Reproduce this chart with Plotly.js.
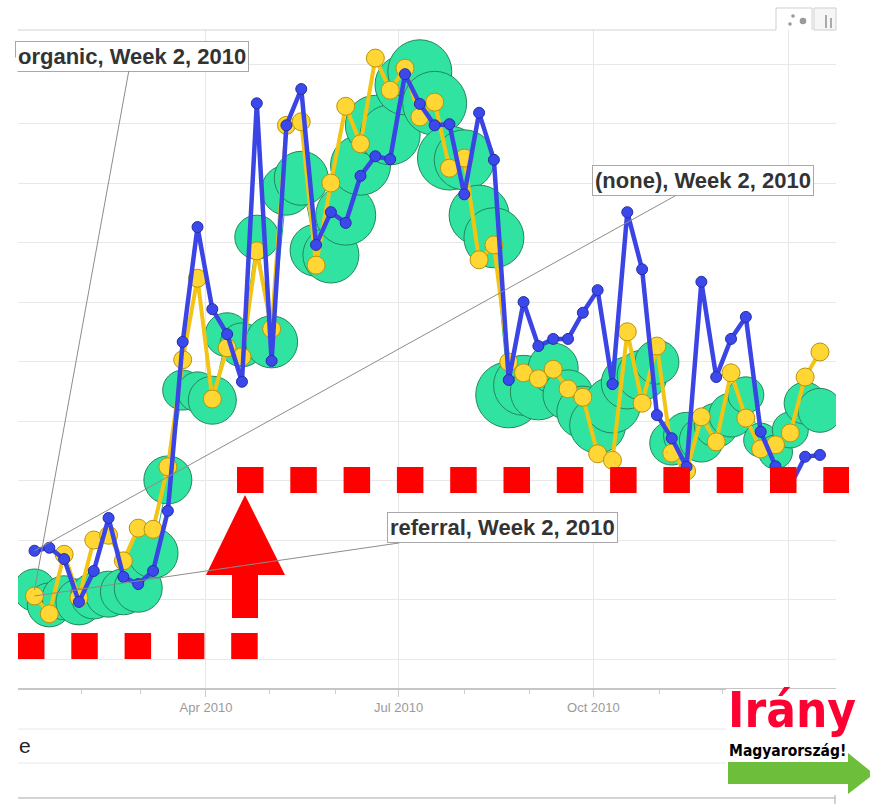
<!DOCTYPE html>
<html><head><meta charset="utf-8">
<script src="https://cdn.plot.ly/plotly-3.0.1.min.js"></script>
<style>html,body{margin:0;padding:0;background:#fff;}#chart{width:870px;height:804px;}</style>
</head><body><div id="chart"></div>
<script>
// ---- data ----
const weeks = ['2010-01-10','2010-01-17','2010-01-24','2010-01-31','2010-02-07','2010-02-14','2010-02-21','2010-02-28',
 '2010-03-07','2010-03-14','2010-03-21','2010-03-28','2010-04-04','2010-04-11','2010-04-18','2010-04-25',
 '2010-05-02','2010-05-09','2010-05-16','2010-05-23','2010-05-30','2010-06-06','2010-06-13','2010-06-20','2010-06-27',
 '2010-07-04','2010-07-11','2010-07-18','2010-07-25','2010-08-01','2010-08-08','2010-08-15','2010-08-22','2010-08-29',
 '2010-09-05','2010-09-12','2010-09-19','2010-09-26','2010-10-03','2010-10-10','2010-10-17','2010-10-24','2010-10-31',
 '2010-11-07','2010-11-14','2010-11-21','2010-11-28','2010-12-05','2010-12-12','2010-12-19','2010-12-26',
 '2011-01-02','2011-01-09','2011-01-16'];
const noneVisits = [282,287,268,196,248,337,238,226,248,349,633,826,688,646,566,1034,601,997,1058,796,
 851,833,912,945,940,1083,1033,997,999,881,1018,939,569,700,626,638,638,682,720,562,
 851,755,510,471,423,734,574,638,675,482,424,392,440,443];
const referralVisits = [206,176,276,203,300,308,265,320,318,423,603,740,537,623,608,786,655,997,1003,762,
 900,1029,966,1110,1056,1093,1011,1036,925,942,771,796,599,581,571,587,554,540,445,434,
 650,530,626,446,416,507,465,581,505,453,460,480,574,616];
const organicVisits = [216,191,203,196,206,209,213,219,278,401,552,549,535,645,628,809,633,888,908,787,
 779,846,930,997,981,1065,1087,1034,942,939,846,808,544,560,549,589,544,515,493,527,
 564,577,599,463,476,468,493,510,544,468,448,485,530,518];
const organicSizeMetric = [210,220,220,230,230,230,230,240,250,240,200,200,240,220,220,220,260,250,270,260,
 280,300,300,300,300,300,320,320,320,300,300,300,330,300,280,250,250,260,280,280,
 260,250,220,220,230,220,220,220,180,170,170,180,210,220];
const seriesNames = ['organic','referral','(none)'];
const labelWeek = 'Week 2, 2010';
const tickDates = ['2010-04-01','2010-07-01','2010-10-01','2011-01-01'];
const tickLabels = ['Apr 2010','Jul 2010','Oct 2010',''];

// ---- pixel helpers for decorations ----
const L = 18, R = 836, T = 30, B = 688;
const px = x => (x - L) / (R - L);
const py = y => (B - y) / (B - T);

const traces = [
 {x: weeks, y: organicVisits, mode: 'lines', line: {color: '#22b07a', width: 1}, hoverinfo: 'skip'},
 {x: weeks, y: organicVisits, mode: 'markers', name: seriesNames[0],
  marker: {size: organicSizeMetric, sizemode: 'diameter', sizeref: 5, color: '#31E3A0', opacity: 1,
           line: {color: '#23875c', width: 1}}},
 {x: weeks, y: referralVisits, mode: 'lines+markers', name: seriesNames[1],
  line: {color: '#F3C414', width: 4},
  marker: {size: 18, color: '#FFD633', line: {color: '#b8940a', width: 1}}},
 {x: weeks, y: noneVisits, mode: 'lines+markers', name: seriesNames[2],
  line: {color: '#3B44E4', width: 4.5},
  marker: {size: 11, color: '#3B48EC', line: {color: '#2430a0', width: 1}}}
];

const shapes = [];
// top border & tabs
shapes.push({type:'line', xref:'paper', yref:'paper', x0:px(18), x1:px(776), y0:py(30), y1:py(30), line:{color:'#d2d2d2', width:1}, layer:'above'});
shapes.push({type:'path', xref:'paper', yref:'paper', layer:'above',
 path:`M${px(776)},${py(30)} L${px(776)},${py(8)} L${px(812)},${py(8)} L${px(812)},${py(30)}`,
 line:{color:'#cfcfcf', width:1}, fillcolor:'rgba(0,0,0,0)'});
shapes.push({type:'path', xref:'paper', yref:'paper', layer:'above',
 path:`M${px(814)},${py(30)} L${px(814)},${py(8)} L${px(836)},${py(8)} L${px(836)},${py(30)} Z`,
 line:{color:'#cfcfcf', width:1}, fillcolor:'#f6f6f6'});
[[790,24,1.8],[793,16,1.8],[803,21,3.3]].forEach(d=>shapes.push({type:'circle', xref:'paper', yref:'paper', layer:'above',
 x0:px(d[0]-d[2]), x1:px(d[0]+d[2]), y0:py(d[1]+d[2]), y1:py(d[1]-d[2]), fillcolor:'#9a9a9a', line:{width:0}}));
[[826,15],[831,18]].forEach(d=>shapes.push({type:'line', xref:'paper', yref:'paper', layer:'above',
 x0:px(d[0]), x1:px(d[0]), y0:py(d[1]), y1:py(28), line:{color:'#aaaaaa', width:2}}));
// bottom control lines
[[729,'#e8e8e8',1],[763,'#e8e8e8',1],[798,'#c4c4c4',1.5]].forEach(d=>shapes.push({type:'line', xref:'paper', yref:'paper', layer:'above',
 x0:px(18), x1:px(836), y0:py(d[0]), y1:py(d[0]), line:{color:d[1], width:d[2]}}));
shapes.push({type:'line', xref:'paper', yref:'paper', layer:'above', x0:px(835), x1:px(835), y0:py(792), y1:py(804), line:{color:'#c4c4c4', width:1.5}});
// red dashed lines
shapes.push({type:'line', xref:'paper', yref:'paper', layer:'above', x0:px(18), x1:px(258), y0:py(646), y1:py(646),
 line:{color:'#FF0000', width:26, dash:'26.5px,26.8px'}});
shapes.push({type:'line', xref:'paper', yref:'paper', layer:'above', x0:px(237), x1:px(849), y0:py(480), y1:py(480),
 line:{color:'#FF0000', width:26, dash:'26.5px,26.8px'}});
// red arrow
shapes.push({type:'path', xref:'paper', yref:'paper', layer:'above', fillcolor:'#FF0000', line:{width:0},
 path:`M${px(245)},${py(495)} L${px(285)},${py(575)} L${px(258)},${py(575)} L${px(258)},${py(618)} L${px(232)},${py(618)} L${px(232)},${py(575)} L${px(206)},${py(575)} Z`});
// logo background + green arrow
shapes.push({type:'rect', xref:'paper', yref:'paper', layer:'above', x0:px(726), x1:px(872), y0:py(689), y1:py(795), fillcolor:'#ffffff', line:{width:0}});
shapes.push({type:'path', xref:'paper', yref:'paper', layer:'above', fillcolor:'#6DBE3A', line:{width:0},
 path:`M${px(728)},${py(762)} L${px(848)},${py(762)} L${px(848)},${py(753)} L${px(874)},${py(774)} L${px(848)},${py(794)} L${px(848)},${py(784)} L${px(728)},${py(784)} Z`});

const boxFont = {family:'Liberation Sans, Arial, sans-serif', size:22, color:'#333'};
function callout(yv, ax, ay, name) {
  return {x: weeks[0], y: yv, ax: ax, ay: ay, text: '<b>' + name + ', ' + labelWeek + '</b>',
    showarrow: true, arrowhead: 0, arrowwidth: 1, arrowcolor: '#8c8c8c', font: boxFont,
    bgcolor: '#fff', bordercolor: '#a8a8a8', borderwidth: 1, borderpad: 2};
}
const annotations = [
 callout(organicVisits[0], 97, -534, seriesNames[0]),
 {xref:'paper', yref:'paper', xanchor:'left', x: px(0), y: py(57), text:' ', width:16, height:46,
  bgcolor:'#ffffff', showarrow:false, borderpad:0},
 callout(noneVisits[0], 668, -370, seriesNames[2]),
 callout(referralVisits[0], 468, -68, seriesNames[1]),
 {xref:'paper', yref:'paper', x: px(17), y: py(745), xanchor:'left', yanchor:'middle', showarrow:false,
  text:'e', font:{family:'Liberation Sans, Arial', size:21, color:'#222'}},
 {xref:'paper', yref:'paper', x: px(726), y: py(710), xanchor:'left', yanchor:'middle', showarrow:false,
  text:'<b>Irány</b>', font:{family:'DejaVu Sans Condensed, DejaVu Sans, Arial', size:49, color:'#FF0033'}},
 {xref:'paper', yref:'paper', x: px(727), y: py(751), xanchor:'left', yanchor:'middle', showarrow:false,
  text:'<b>Magyarország!</b>', font:{family:'DejaVu Sans Condensed, Arial', size:15.5, color:'#000'}}
];

const layout = {
 width: 870, height: 804,
 margin: {l: L, r: 870 - R, t: T, b: 804 - B, pad: 0},
 paper_bgcolor: '#ffffff', plot_bgcolor: '#ffffff',
 showlegend: false,
 xaxis: {type: 'date', range: ['2010-01-02 05:00', '2011-01-23 14:00'], tickmode: 'array', tickvals: tickDates, ticktext: tickLabels,
  showgrid: true, gridcolor: '#e6e6e6', gridwidth: 1, zeroline: false,
  showline: true, linecolor: '#c6c6c6', linewidth: 1.5, ticks: 'outside', ticklen: 7, tickcolor: '#cccccc',
  tickfont: {family: 'Liberation Sans, Arial', size: 13, color: '#9a9a9a'},
  minor: {tickmode: 'linear', dtick: 'M1', tick0: '2010-01-01', ticks: 'outside', ticklen: 4, tickcolor: '#cccccc', showgrid: false}},
 yaxis: {range: [51.3, 1157.2], dtick: 100, tick0: 100, showgrid: true, gridcolor: '#e8e8e8', gridwidth: 1,
  zeroline: false, showticklabels: false, showline: false},
 shapes: shapes,
 annotations: annotations
};

Plotly.newPlot('chart', traces, layout, {staticPlot: true, displayModeBar: false});
</script></body></html>
